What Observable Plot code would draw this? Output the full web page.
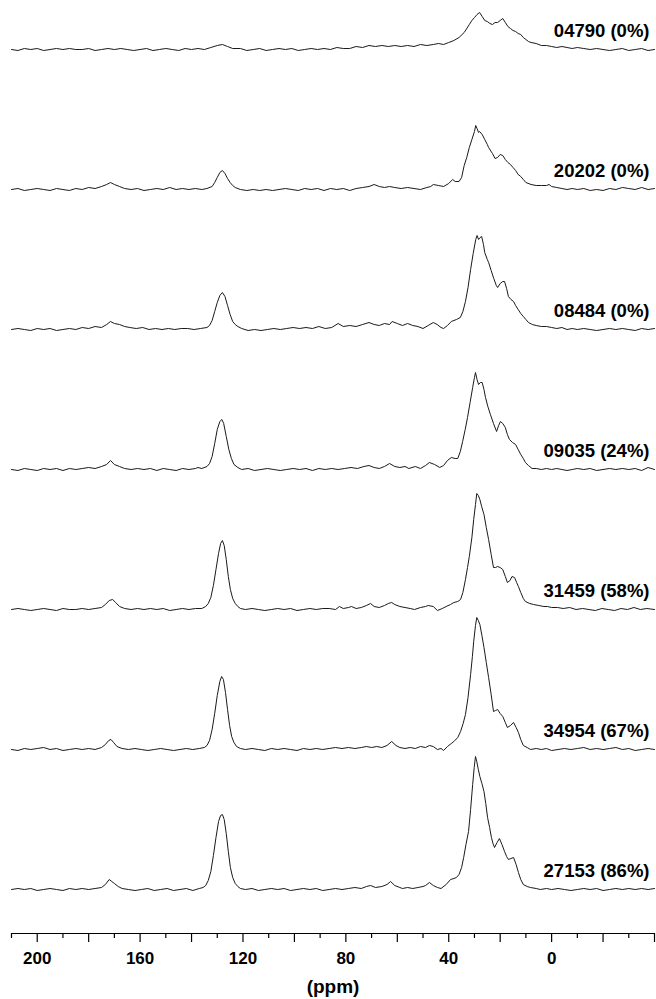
<!DOCTYPE html>
<html><head><meta charset="utf-8">
<script src="https://cdn.jsdelivr.net/npm/d3@7"></script>
<script src="https://cdn.jsdelivr.net/npm/@observablehq/plot@0.6"></script>
<style>body{margin:0;background:#fff;} svg{display:block}</style>
</head><body><div id="chart"></div>
<script>
const samples = ["04790 (0%)", "20202 (0%)", "08484 (0%)", "09035 (24%)", "31459 (58%)", "34954 (67%)", "27153 (86%)"];

const s04790 = [[210,0],[207.5,-1],[205,1],[202.5,0],[200,1],[197.5,-1],[195,0],[192.5,1],[190,0],[187.5,1],[185,0],[182.5,0],[180,1],[177.5,-1],[175,0],[172.5,1],[170,0],[167.5,1],[165,0],[162.5,-1],[160,0],[157.5,1],[155,-1],[152.5,0],[150,1],[147.5,0],[145,-1],[142.5,1],[140,0],[137.5,1],[135,0],[132.5,2],[130,4],[128,5],[126,3],[124,1],[121,1],[118.5,-1],[116,0],[113.5,1],[111,-1],[108.5,0],[106,1],[103.5,0],[101,1],[98.5,-1],[96,0],[93.5,1],[91,0],[88.5,1],[86,0],[83.5,2],[81,1],[78.5,1],[76,3],[73.5,2],[71,4],[68.5,3],[66,4],[63.5,3],[61,4],[58.5,3],[56,4],[53.5,3],[51,5],[48.5,4],[46,5],[44,6],[42,5],[40,7],[38,9],[36,12],[34,17],[32,25],[31,29],[30,32],[29,35],[28,37],[27,33],[26,29],[25,28],[24,26],[23,25],[22,27],[21,27],[20,29],[19,31],[18,27],[17,23],[16,21],[15,19],[14,18],[13,16],[12,15],[11,12],[10,10],[9,8],[8,7],[6,6],[4,4],[2,4],[0,3],[-2,2],[-4,3],[-6,2],[-8,1],[-10,2],[-12.5,1],[-15,0],[-17.5,1],[-20,0],[-22.5,-1],[-25,0],[-27.5,1],[-30,-1],[-32.5,0],[-35,1],[-37.5,-1],[-40,0]];

const s20202 = [[210,0],[207.5,1],[205,-1],[202.5,0],[200,1],[197.5,0],[195,-1],[192.5,1],[190,0],[187.5,-1],[185,1],[182.5,0],[180,2],[177.5,1],[175,3],[173,5],[171.5,7],[170,5],[168,3],[166,1],[163.5,0],[161,1],[158.5,-1],[156,0],[153.5,1],[151,0],[148.5,2],[146,0],[143.5,1],[141,0],[138.5,1],[136,0],[134,1],[132,3],[131,7],[130,12],[129,17],[128,19],[127,16],[126,11],[125,7],[124,4],[123,2],[121,0],[118.5,-1],[116,0],[113.5,-1],[111,0],[108.5,-1],[106,0],[103.5,1],[101,0],[98.5,-1],[96,1],[93.5,0],[91,1],[88.5,-1],[86,1],[83.5,0],[81,1],[78.5,-1],[76,1],[73.5,2],[71,3],[69,5],[67,3],[65,2],[63,3],[61,2],[58.5,1],[56,2],[53.5,1],[51,0],[48.5,2],[47,3],[46,5],[44,4],[42,3],[40,6],[38.5,10],[37.5,8],[36,8],[35,12],[34,24],[33,32],[32,42],[31,50],[30,58],[29.5,64],[29,61],[28.4,57],[28,58],[27,55],[26,50],[25,45],[24.5,42],[23,36],[22,31],[21,32],[20,35],[19,34],[18,30],[17,27],[16,25],[15,22],[14,19],[13,15],[12,13],[11,10],[10,7],[8,5],[6,4],[4,4],[2,4],[1,5],[0,3],[-2,2],[-4,1],[-6,0],[-8,1],[-10,0],[-12.5,1],[-15,-1],[-17.5,0],[-20,-1],[-22.5,1],[-25,0],[-27.5,2],[-30,1],[-32.5,0],[-35,2],[-37.5,0],[-40,1]];

const s08484 = [[210,0],[207.5,1],[205,0],[202.5,-1],[200,1],[197.5,0],[195,1],[192.5,-1],[190,0],[187.5,1],[185,0],[182.5,2],[180,1],[177.5,3],[175,2],[173,5],[171.5,8],[170,6],[168,5],[166,3],[164,2],[161.5,1],[159,2],[156.5,0],[154,1],[151.5,0],[149,1],[146.5,0],[144,1],[141.5,1],[139,0],[136.5,1],[134,2],[133,4],[132,9],[131,18],[130,27],[129,34],[128,37],[127,33],[126,24],[125,15],[124,8],[123,5],[122,3],[120.5,1],[118,-1],[115.5,0],[113,-1],[110.5,0],[108,1],[105.5,0],[103,1],[100.5,2],[98,1],[95.5,2],[93,1],[90.5,3],[88,1],[85.5,2],[83,6],[81,3],[78.5,4],[76,3],[73.5,5],[71,7],[69,5],[67,4],[65,6],[63,5],[62,8],[60,6],[58,4],[56,6],[54,4],[52,3],[50,1],[48,4],[46,7],[44.5,5],[43,2],[42,1],[40.5,4],[39,8],[37,10],[35.5,12],[34.5,18],[33.5,28],[32.5,42],[31.5,60],[30.5,76],[29.5,90],[29,94],[28.4,90],[27.8,92],[27.2,93],[26.5,85],[26,77],[25,70],[24.5,67],[23.5,59],[22.5,51],[21.5,44],[21,42],[20,46],[19,48],[18.3,48],[17.5,41],[16.8,33],[15.8,30],[14.8,28],[14,24],[13,20],[12,16],[11,13],[10,10],[9,7],[7.5,5],[6,4],[4,3],[2,3],[0,2],[-2,1],[-4,2],[-6,0],[-8,1],[-10,0],[-12.5,1],[-15,0],[-17.5,-1],[-20,0],[-22.5,1],[-25,0],[-27.5,1],[-30,0],[-32.5,-1],[-35,1],[-37.5,0],[-40,1]];

const s09035 = [[210,0],[207.5,-1],[205,1],[202.5,0],[200,-1],[197.5,1],[195,0],[192.5,1],[190,-1],[187.5,1],[185,0],[182.5,1],[180,2],[177.5,1],[175,3],[173,5],[171.5,9],[170,5],[168,3],[166,1],[163.5,0],[161,1],[158.5,0],[156,1],[153.5,-1],[151,1],[148.5,0],[146,-1],[143.5,1],[141,0],[138.5,1],[137.5,2],[136,1],[134,3],[133,6],[132,13],[131,26],[130,40],[129,48],[128.2,50],[127.5,46],[126.5,33],[125.5,20],[124.5,11],[123.5,5],[122,2],[120.5,0],[118,1],[115.5,-1],[113,0],[110.5,1],[108,0],[105.5,-1],[103,0],[100.5,1],[98,0],[95.5,1],[93,-1],[90.5,1],[88,0],[85.5,1],[83,0],[80.5,1],[78,2],[75.5,1],[73,3],[71,4],[69,2],[67,1],[65,3],[63,6],[61,3],[59,2],[57,3],[55.5,1],[53,3],[51,1],[49,4],[47.5,7],[45.5,5],[43.5,2],[42,4],[40.5,9],[39,12],[37.5,11],[36.5,11],[35.5,18],[34.6,28],[33.6,40],[32.7,52],[31.7,67],[30.7,82],[30,92],[29.6,97],[29,90],[28.4,85],[27.7,87],[27,87],[26.3,80],[25.7,72],[24.8,63],[23.8,55],[22.6,46],[21.4,38],[20.6,44],[19.9,48],[19,46],[18,42],[17.2,35],[16.4,30],[15.2,27],[14,25],[13,20],[12,15],[11,11],[10.2,7],[9,4],[7.6,1],[6,1],[4,0],[2,1],[0,0],[-2,1],[-4,0],[-6,-1],[-8,0],[-10,1],[-12.5,0],[-15,1],[-17.5,-1],[-20,0],[-22.5,1],[-25,0],[-27.5,1],[-30,0],[-32.5,1],[-35,-1],[-37.5,2],[-40,0]];

const s31459 = [[210,0],[207.5,1],[205,0],[202.5,-1],[200,0],[197.5,1],[195,0],[192.5,-1],[190,1],[187.5,0],[185,0],[182.5,1],[180,0],[177.5,1],[175,2],[173.5,5],[172,9],[170.7,10],[169.5,7],[168,3],[166,1],[163.5,0],[161,1],[158.5,0],[156,1],[153.5,0],[151,1],[148.5,-1],[146,0],[143.5,1],[141,0],[138.5,1],[136,1],[134.5,3],[133.5,6],[132.5,12],[131.5,24],[130.5,40],[129.5,56],[128.7,66],[128,69],[127.3,64],[126.5,50],[125.7,33],[124.9,20],[124,11],[123,6],[122,3],[121,1],[119,0],[116.5,1],[114,0],[111.5,-1],[109,0],[106.5,1],[104,0],[101.5,1],[99,-1],[96.5,0],[94,1],[91.5,0],[89,1],[86.5,1],[84,0],[82.5,3],[81,1],[79,2],[77.8,3],[76,1],[74,2],[72,4],[70.4,6],[69,3],[67,2],[65,4],[63.5,6],[62.2,7],[61,5],[59,3],[57,2],[55,1],[53.3,0],[51,2],[49,3],[48,4],[46,3],[44.4,-1],[42.5,1],[41,3],[39.3,5],[38,7],[36.5,8],[35.4,10],[34.5,17],[33.5,30],[32.7,42],[32,53],[31,72],[30.3,90],[29.6,105],[29.1,116],[28.5,114],[27.9,110],[27.2,103],[26.3,95],[25.4,82],[24.5,70],[23.5,55],[22.6,42],[21.8,42],[21,43],[20,42],[19,40],[18,33],[17.2,27],[16.2,29],[15.4,33],[14.4,32],[13.6,27],[12.9,23],[12,17],[11,11],[10.2,8],[8.5,6],[7,5],[5,4],[3,3],[1.6,3],[0,2],[-2.3,2],[-4.5,1],[-7,2],[-9.5,0],[-12,1],[-14.5,0],[-17,-1],[-19.5,1],[-22,0],[-24.5,-1],[-27,1],[-29.5,0],[-32,2],[-34.5,0],[-37,1],[-40,0]];

const s34954 = [[210,0],[207.5,-1],[205,1],[202.5,0],[200,1],[197.5,2],[195,0],[192.5,1],[190,-1],[187.5,0],[185,1],[182.5,0],[180,1],[177.5,0],[175,2],[173.5,5],[172.2,9],[171.3,10],[170.3,7],[169,3],[167,1],[164.5,0],[162,1],[159.5,0],[157,-1],[154.5,0],[152,1],[149.5,0],[147,-1],[144.5,0],[142,1],[139.5,0],[137,1],[135,2],[134,4],[133,9],[132,20],[131,36],[130,54],[129,68],[128.3,73],[127.6,70],[126.8,57],[126,40],[125.2,24],[124.4,13],[123.5,7],[122.5,3],[121,1],[119,0],[116.5,1],[114,0],[111.5,-1],[109,1],[106.5,0],[104,1],[101.5,0],[99,-1],[96.5,1],[94,0],[91.5,1],[89,0],[86.5,1],[84,2],[81.5,1],[79,2],[76.5,1],[74,2],[72,3],[70,2],[68,3],[66,2],[64,4],[62.2,8],[60.5,4],[59,2],[57,1],[55,2],[53,1],[51,3],[49,2],[47.5,4],[46,3],[44.4,0],[43,1],[42,-1],[40.5,3],[39,6],[38,8],[36.5,12],[35.4,18],[34.4,26],[33.5,35],[32.5,52],[31.5,75],[30.8,93],[30.3,108],[29.6,124],[29.1,132],[28.5,129],[27.9,125],[27.1,114],[26.3,102],[25.4,87],[24.5,72],[23.5,55],[22.6,38],[21.8,39],[21,40],[20,36],[19,33],[18,27],[17.2,22],[16,24],[14.8,27],[13.8,22],[12.9,17],[12,10],[11,4],[9.5,2],[8.2,0],[6,1],[4,0],[2,1],[0,-1],[-2.5,0],[-5,1],[-7.5,0],[-10,1],[-12.5,2],[-15,0],[-17.5,1],[-20,0],[-22.5,1],[-25,2],[-27.5,0],[-30,1],[-32.5,-1],[-35,0],[-37.5,1],[-40,0]];

const s27153 = [[210,0],[207.5,1],[205,0],[202.5,1],[200,-1],[197.5,0],[195,1],[192.5,0],[190,-1],[187.5,1],[185,0],[182.5,1],[180,0],[177.5,1],[175,2],[173.5,5],[172,10],[171,8],[170,6],[168.5,3],[167,1],[164.5,0],[162,-1],[159.5,0],[157,1],[154.5,-1],[152,0],[149.5,1],[147,-1],[144.5,0],[142,1],[139.5,-1],[137,1],[135.5,2],[134.5,4],[133.5,9],[132.5,18],[131.5,34],[130.5,52],[129.5,68],[128.7,74],[128,75],[127.3,70],[126.5,56],[125.7,38],[124.9,22],[124,12],[123,6],[122,3],[121,1],[119,0],[116.5,1],[114,-1],[111.5,0],[109,1],[106.5,0],[104,1],[101.5,-1],[99,0],[96.5,1],[94,0],[91.5,1],[89,-1],[86.5,0],[84,1],[81.5,0],[79,1],[76.5,2],[74,1],[72,3],[70.4,4],[68.5,2],[66,3],[64,5],[62.6,8],[61,4],[59,2],[58,1],[56,2],[54,1],[52,2],[50,3],[49,4],[47.5,7],[46,4],[44.4,2],[43,1],[41,5],[39.3,10],[38,11],[37,12],[36,15],[35,22],[34.2,32],[33.3,45],[32.3,58],[31.5,80],[30.7,105],[30.1,122],[29.6,133],[29.1,128],[28.5,120],[27.9,113],[27.1,106],[26.3,98],[25.6,86],[24.9,72],[24.1,62],[23.4,52],[22.8,46],[22.2,42],[21.2,47],[20.3,51],[19.3,45],[18.3,38],[17.5,33],[16.8,30],[15.8,31],[14.8,32],[13.8,25],[12.9,17],[12,10],[11,5],[9.5,3],[8.2,2],[6,1],[4.4,0],[2,1],[0,0],[-2.5,1],[-5,0],[-7.5,-1],[-10,0],[-12.5,1],[-15,0],[-17.5,1],[-20,-1],[-22.5,0],[-25,1],[-27.5,0],[-30,1],[-32.5,0],[-35,1],[-37.5,0],[-40,1]];

const spectra = [s04790, s20202, s08484, s09035, s31459, s34954, s27153];

const labelTicks = [200, 160, 120, 80, 40, 0];
const majorTicks = [200, 180, 160, 140, 120, 100, 80, 60, 40, 20, 0, -20, -40];
const minorTicks = [210, 190, 170, 150, 130, 110, 90, 70, 50, 30, 10, -10, -30];
const axisTitle = "(ppm)";

// vertical stacking (1 y unit = 1 px)
const gap = 140, bottomOffset = 44, labelLift = 13;
const n = samples.length;
const rows = spectra.flatMap((s, i) => s.map(([ppm, v]) => ({sample: samples[i], ppm, y: bottomOffset + gap * (n - 1 - i) + v})));
const labels = samples.map((s, i) => ({sample: s, y: bottomOffset + gap * (n - 1 - i) + labelLift}));

const font = "'Liberation Sans', Arial, sans-serif";
const chart = Plot.plot({
  width: 656, height: 999,
  marginLeft: 11, marginRight: 2, marginTop: 0, marginBottom: 66,
  x: {domain: [210, -40], label: null},
  y: {domain: [0, 933], axis: null},
  style: {fontFamily: font, background: "#fff", color: "#000"},
  marks: [
    Plot.line(rows, {x: "ppm", y: "y", z: "sample", stroke: "#1a1a1a", strokeWidth: 1}),
    Plot.text(labels, {y: "y", text: "sample", frameAnchor: "right", dx: -5, textAnchor: "end", lineAnchor: "bottom", fontSize: 18.5, fontWeight: "bold", fill: "#000"}),
    Plot.ruleY([0], {stroke: "#000", strokeWidth: 1.2}),
    Plot.axisX(majorTicks, {anchor: "bottom", tickSize: 9, tickFormat: () => "", label: null, strokeWidth: 1.2}),
    Plot.axisX(minorTicks, {anchor: "bottom", tickSize: 5, tickFormat: () => "", label: null, strokeWidth: 1.2}),
    Plot.axisX(labelTicks, {anchor: "bottom", tickSize: 0, tickPadding: 18, tickFormat: d => String(d), label: null, fontSize: 17, fontWeight: "bold", fill: "#000"}),
    Plot.text([axisTitle], {text: d => d, frameAnchor: "bottom", dy: 59, lineAnchor: "bottom", fontSize: 19, fontWeight: "bold", fill: "#000"})
  ]
});
document.getElementById("chart").appendChild(chart);
</script>
</body></html>
